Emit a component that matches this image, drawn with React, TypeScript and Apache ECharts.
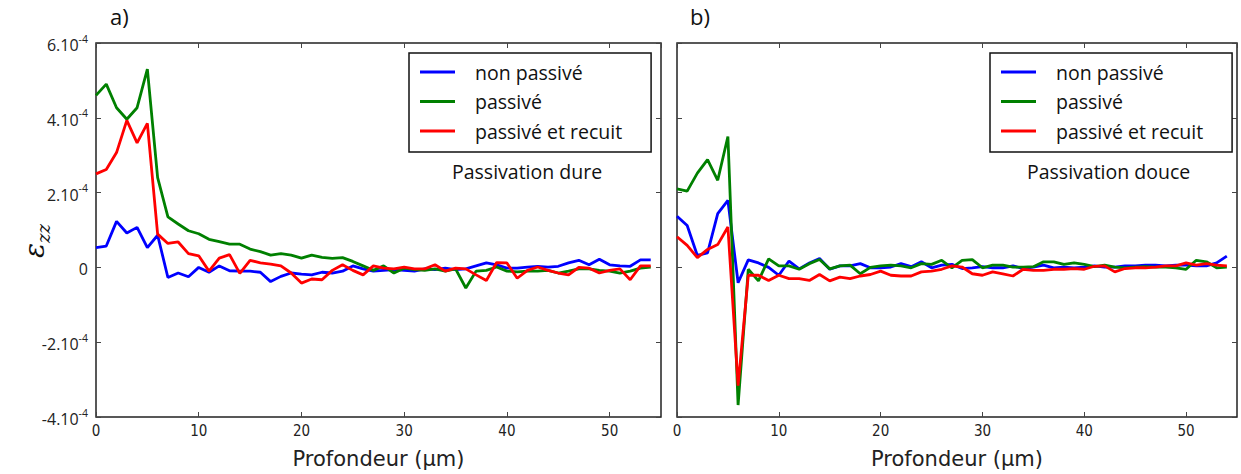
import React, { useEffect, useRef } from "react";
import * as echarts from "echarts";

// depth (µm)
const DEPTH = [
  0, 1, 2, 3, 4, 5, 6, 7, 8, 9, 10, 11, 12, 13, 14, 15, 16, 17, 18, 19, 20, 21, 22, 23, 24, 25, 26, 27,
  28, 29, 30, 31, 32, 33, 34, 35, 36, 37, 38, 39, 40, 41, 42, 43, 44, 45, 46, 47, 48, 49, 50, 51, 52, 53, 54,
];

const SERIES_NAMES = ["non passivé", "passivé", "passivé et recuit"];
const SERIES_COLORS = ["#0000ff", "#008000", "#ff0000"];

// strain εzz, in units of 1e-4 — panel a) Passivation dure
const A_NON_PASSIVE = [
  0.53, 0.57, 1.23, 0.92, 1.07, 0.53, 0.86, -0.27, -0.15, -0.25, 0, -0.13, 0.04, -0.09, -0.1, -0.1, -0.13,
  -0.38, -0.24, -0.15, -0.18, -0.2, -0.13, -0.15, -0.1, 0.04, -0.04, -0.1, -0.08, -0.06, -0.08, -0.1, -0.04,
  -0.06, -0.02, -0.06, -0.04, 0.04, 0.12, 0.07, -0.02, -0.02, 0.01, 0.03, 0.01, 0.03, 0.12, 0.19, 0.07, 0.22,
  0.07, 0.04, 0.03, 0.2, 0.2,
];
const A_PASSIVE = [
  4.6, 4.9, 4.27, 3.96, 4.27, 5.3, 2.4, 1.35, 1.16, 0.98, 0.9, 0.75, 0.69, 0.62, 0.62, 0.49, 0.42, 0.33,
  0.37, 0.33, 0.25, 0.33, 0.27, 0.24, 0.26, 0.16, 0.04, -0.08, 0.04, -0.15, -0.02, -0.06, -0.08, -0.04, -0.1,
  -0.04, -0.55, -0.1, -0.08, 0.01, -0.1, -0.12, -0.1, -0.1, -0.08, -0.15, -0.1, -0.04, -0.04, -0.08, -0.1,
  -0.15, -0.1, -0.02, 0.01,
];
const A_RECUIT = [
  2.5, 2.62, 3.07, 3.93, 3.33, 3.85, 0.89, 0.64, 0.68, 0.37, 0.31, -0.1, 0.25, 0.34, -0.16, 0.19, 0.12, 0.09,
  0.04, -0.15, -0.42, -0.31, -0.33, -0.08, 0.07, -0.08, -0.2, 0.04, -0.02, -0.04, 0.01, -0.04, -0.04, 0.07,
  -0.1, -0.02, -0.04, -0.2, -0.35, 0.13, 0.12, -0.29, -0.08, 0.01, -0.08, -0.15, -0.2, 0, -0.02, -0.15, -0.08,
  -0.04, -0.33, 0.04, 0.04,
];

// panel b) Passivation douce
const B_NON_PASSIVE = [
  1.37, 1.12, 0.32, 0.39, 1.44, 1.79, -0.41, 0.2, 0.12, 0, -0.21, 0.17, -0.04, 0.12, 0.24, -0.05, 0.04, 0.04,
  0.1, -0.01, -0.01, 0.01, 0.1, 0.02, 0.15, -0.01, 0.06, 0.08, -0.03, -0.01, 0.02, -0.01, -0.01, 0.04, -0.03,
  0.01, 0.06, -0.01, 0.01, -0.01, 0.01, 0.04, 0.01, 0.01, 0.04, 0.04, 0.06, 0.06, 0.04, 0.06, 0.06, 0.04,
  0.04, 0.12, 0.3,
];
const B_PASSIVE = [
  2.1, 2.04, 2.52, 2.88, 2.33, 3.5, -3.68, -0.05, -0.36, 0.23, 0.04, 0.04, -0.05, 0.1, 0.21, -0.04, 0.04,
  0.06, -0.17, 0, 0.04, 0.06, 0.04, -0.01, 0.1, 0.08, 0.19, -0.01, 0.19, 0.21, -0.01, 0.06, 0.06, 0.01, 0.01,
  0.02, 0.15, 0.15, 0.08, 0.12, 0.08, 0.02, 0.06, 0.01, -0.01, 0.01, 0.02, 0.01, 0.01, -0.01, -0.05, 0.19,
  0.15, -0.01, 0.01,
];
const B_RECUIT = [
  0.82, 0.59, 0.26, 0.48, 0.61, 1.08, -3.16, -0.21, -0.21, -0.35, -0.21, -0.3, -0.3, -0.35, -0.19, -0.36,
  -0.26, -0.3, -0.23, -0.19, -0.1, -0.21, -0.23, -0.23, -0.12, -0.1, -0.05, 0.04, 0.01, -0.17, -0.21, -0.12,
  -0.17, -0.23, -0.05, -0.08, -0.08, -0.05, -0.05, -0.03, -0.05, 0.03, 0.04, -0.12, -0.03, -0.01, -0.01, 0.01,
  0.04, 0.04, 0.12, 0.06, 0.1, 0.06, 0.04,
];

const Y_TICK_LABELS: Record<string, string> = {
  "6": "{m|6.10}{s|-4}",
  "4": "{m|4.10}{s|-4}",
  "2": "{m|2.10}{s|-4}",
  "0": "{m|0}",
  "-2": "{m|-2.10}{s|-4}",
  "-4": "{m|-4.10}{s|-4}",
};
const X_TICKS = ["0", "10", "20", "30", "40", "50"];

const PANELS = [
  { values: [A_NON_PASSIVE, A_PASSIVE, A_RECUIT] },
  { values: [B_NON_PASSIVE, B_PASSIVE, B_RECUIT] },
];

const GRIDS = [
  { left: 96, top: 43, width: 565, height: 375 },
  { left: 677, top: 43, width: 560, height: 375 },
];

export default function App() {
  const ref = useRef<HTMLDivElement>(null);

  useEffect(() => {
    if (!ref.current) return;
    const chart = echarts.init(ref.current, null, { renderer: "svg" });

    const tick = { show: true, inside: true, length: 5, lineStyle: { color: "#444", width: 1 } };
    const noLine = { show: false, onZero: false };
    const xAxes: any[] = [];
    const yAxes: any[] = [];
    GRIDS.forEach((_, gi) => {
      xAxes.push({
        type: "value",
        gridIndex: gi,
        min: 0,
        max: 55,
        interval: 10,
        position: "bottom",
        axisLine: noLine,
        axisTick: tick,
        splitLine: { show: false },
        axisLabel: {
          show: true,
          showMaxLabel: false,
          margin: 6,
          color: "#222",
          fontFamily: "DejaVu Sans Condensed, DejaVu Sans",
          fontSize: 15,
          formatter: (v: number) => (X_TICKS.includes(String(v)) ? String(v) : ""),
        },
        name: "Profondeur (µm)",
        nameLocation: "middle",
        nameGap: 31,
        nameTextStyle: { color: "#222", fontFamily: "DejaVu Sans", fontSize: 21 },
      });
      xAxes.push({
        type: "value",
        gridIndex: gi,
        min: 0,
        max: 55,
        interval: 10,
        position: "top",
        axisLine: noLine,
        axisTick: tick,
        splitLine: { show: false },
        axisLabel: { show: false },
      });
      yAxes.push({
        type: "value",
        gridIndex: gi,
        min: -4,
        max: 6,
        interval: 2,
        position: "left",
        axisLine: noLine,
        axisTick: tick,
        splitLine: { show: false },
        axisLabel: {
          show: gi === 0,
          margin: 8,
          formatter: (v: number) => Y_TICK_LABELS[String(v)] ?? "",
          rich: {
            m: { fontFamily: "Open Sans", fontSize: 16, color: "#222", lineHeight: 20, verticalAlign: "bottom" },
            s: { fontFamily: "Open Sans", fontSize: 10.5, color: "#222", lineHeight: 20, verticalAlign: "top" },
          },
        },
      });
      yAxes.push({
        type: "value",
        gridIndex: gi,
        min: -4,
        max: 6,
        interval: 2,
        position: "right",
        axisLine: noLine,
        axisTick: tick,
        splitLine: { show: false },
        axisLabel: { show: false },
      });
    });

    const series: any[] = [];
    PANELS.forEach((p, gi) => {
      p.values.forEach((vals, si) => {
        series.push({
          type: "line",
          name: SERIES_NAMES[si],
          xAxisIndex: gi * 2,
          yAxisIndex: gi * 2,
          data: DEPTH.map((d, i) => [d, vals[i]]),
          showSymbol: false,
          symbol: "none",
          lineStyle: { color: SERIES_COLORS[si], width: 2.8 },
          itemStyle: { color: SERIES_COLORS[si] },
          z: 3 + si,
        });
      });
    });

    const legendCommon = {
      orient: "vertical",
      top: 53,
      icon: "rect",
      itemWidth: 35,
      itemHeight: 3,
      itemGap: 9.5,
      padding: [9, 29, 11, 11],
      borderColor: "#111",
      borderWidth: 1.5,
      backgroundColor: "#fff",
      data: SERIES_NAMES,
      textStyle: {
        fontFamily: "Open Sans",
        fontSize: 19.5,
        color: "#111",
        lineHeight: 20,
        padding: [0, 0, 0, 15],
      },
    };

    chart.setOption({
      animation: false,
      backgroundColor: "#fff",
      grid: GRIDS.map((g) => ({ ...g, show: true, borderColor: "#222", borderWidth: 1.5, backgroundColor: "transparent" })),
      xAxis: xAxes,
      yAxis: yAxes,
      legend: [
        { ...legendCommon, left: 409 },
        { ...legendCommon, left: 990 },
      ],
      series,
      graphic: [
        { type: "text", left: 110, top: 5, style: { text: "a)", fontFamily: "Open Sans", fontSize: 22, fill: "#111" } },
        { type: "text", left: 690, top: 5, style: { text: "b)", fontFamily: "Open Sans", fontSize: 22, fill: "#111" } },
        {
          type: "text",
          left: 452,
          top: 161,
          style: { text: "Passivation dure", fontFamily: "Open Sans", fontSize: 19.5, fill: "#111" },
        },
        {
          type: "text",
          left: 1027,
          top: 161,
          style: { text: "Passivation douce", fontFamily: "Open Sans", fontSize: 19.5, fill: "#111" },
        },
        {
          type: "text",
          x: 18,
          y: 258,
          rotation: Math.PI / 2,
          style: {
            text: "{e|ε}{z|zz}",
            rich: {
              e: { fontFamily: "DejaVu Serif", fontStyle: "italic", fontSize: 28, fill: "#111", lineHeight: 30, verticalAlign: "bottom" },
              z: { fontFamily: "DejaVu Serif", fontStyle: "italic", fontSize: 18, fill: "#111", lineHeight: 30, verticalAlign: "bottom", padding: [0, 0, -4, 0] },
            },
          },
        },
      ],
    });

    return () => chart.dispose();
  }, []);

  return (
    <div
      ref={ref}
      style={{ position: "fixed", left: 0, top: 0, width: 1241, height: 474, background: "#fff" }}
    />
  );
}
